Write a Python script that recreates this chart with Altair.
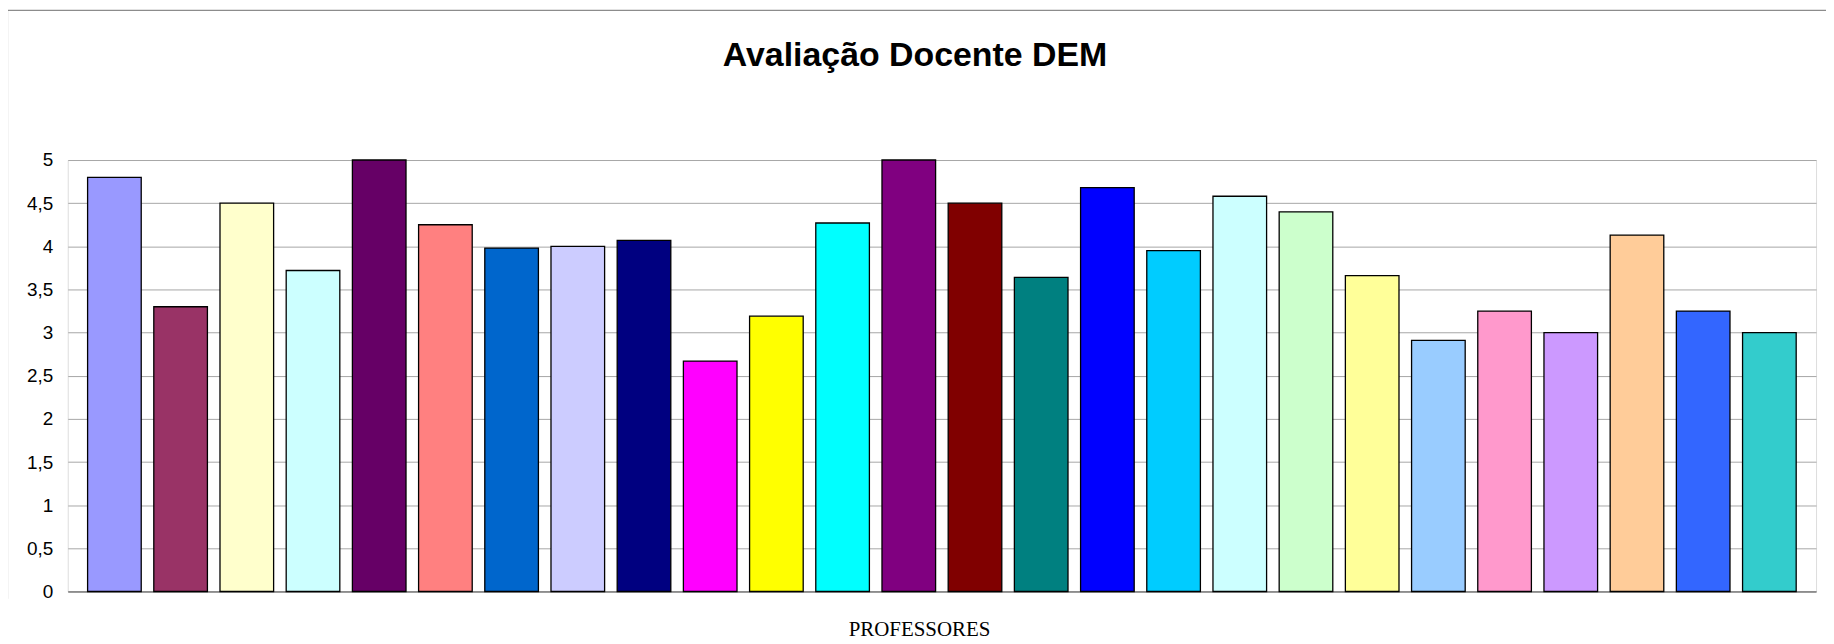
import altair as alt
import pandas as pd

professores = [f"P{i}" for i in range(1, 27)]
notas = [4.80, 3.30, 4.50, 3.72, 5.00, 4.25, 3.98, 4.00, 4.07, 2.67,
         3.19, 4.27, 5.00, 4.50, 3.64, 4.68, 3.95, 4.58, 4.40, 3.66,
         2.91, 3.25, 3.00, 4.13, 3.25, 3.00]
cores = ["#9999FF", "#993366", "#FFFFCC", "#CCFFFF", "#660066", "#FF8080",
         "#0066CC", "#CCCCFF", "#000080", "#FF00FF", "#FFFF00", "#00FFFF",
         "#800080", "#800000", "#008080", "#0000FF", "#00CCFF", "#CCFFFF",
         "#CCFFCC", "#FFFF99", "#99CCFF", "#FF99CC", "#CC99FF", "#FFCC99",
         "#3366FF", "#33CCCC"]
y_ticks = [0, 0.5, 1, 1.5, 2, 2.5, 3, 3.5, 4, 4.5, 5]
titulo = "Avaliação Docente DEM"
titulo_x = "PROFESSORES"

df = pd.DataFrame({"professor": professores, "nota": notas})

W = 1756
H = 433.4

bars = alt.Chart(df).mark_bar(stroke="black", strokeWidth=1.3).encode(
    x=alt.X("professor:N", sort=None,
            scale=alt.Scale(paddingInner=0.19, paddingOuter=0.3),
            axis=alt.Axis(labels=False, ticks=False, domain=True,
                          domainColor="#808080", domainWidth=1.5, grid=False,
                          title=titulo_x, titleFont="Liberation Serif",
                          titleFontSize=21, titleFontWeight="normal",
                          titleColor="black", titleX=855, titleY=44.5,
                          titleBaseline="alphabetic", titleAlign="center")),
    y=alt.Y("nota:Q", scale=alt.Scale(domain=[0, 5], nice=False),
            axis=alt.Axis(values=y_ticks, title=None, grid=True,
                          gridColor="#a6a6a6", gridWidth=1, domain=False,
                          ticks=False, labelPadding=15,
                          labelFont="Liberation Sans", labelFontSize=19,
                          labelColor="black",
                          labelExpr="replace(toString(datum.value), '.', ',')")),
    color=alt.Color("professor:N",
                    scale=alt.Scale(domain=professores, range=cores),
                    legend=None),
)

one = pd.DataFrame({"t": [titulo]})
top_border = alt.Chart(one).mark_rule(color="#8c8c8c", strokeWidth=1.2).encode(
    x=alt.value(-60.5), x2=alt.value(W + 12), y=alt.value(-150.3))
left_border = alt.Chart(one).mark_rule(color="#8c8c8c", strokeWidth=1.2).encode(
    x=alt.value(-60.5), y=alt.value(-150.3), y2=alt.value(440.7))
title_mark = alt.Chart(one).mark_text(
    font="Liberation Sans", fontSize=34, fontWeight="bold", color="black",
    align="center", baseline="alphabetic",
).encode(text="t:N", x=alt.value(851), y=alt.value(-94.3))

chart = alt.layer(bars, top_border, left_border, title_mark).properties(
    width=W, height=H,
    padding={"left": 60, "top": 151.3, "right": 10, "bottom": 49},
    autosize=alt.AutoSizeParams(type="none"),
).configure_view(stroke=None).configure(background="white")

chart.save("out.html", embed_options={"renderer": "svg", "actions": False})
